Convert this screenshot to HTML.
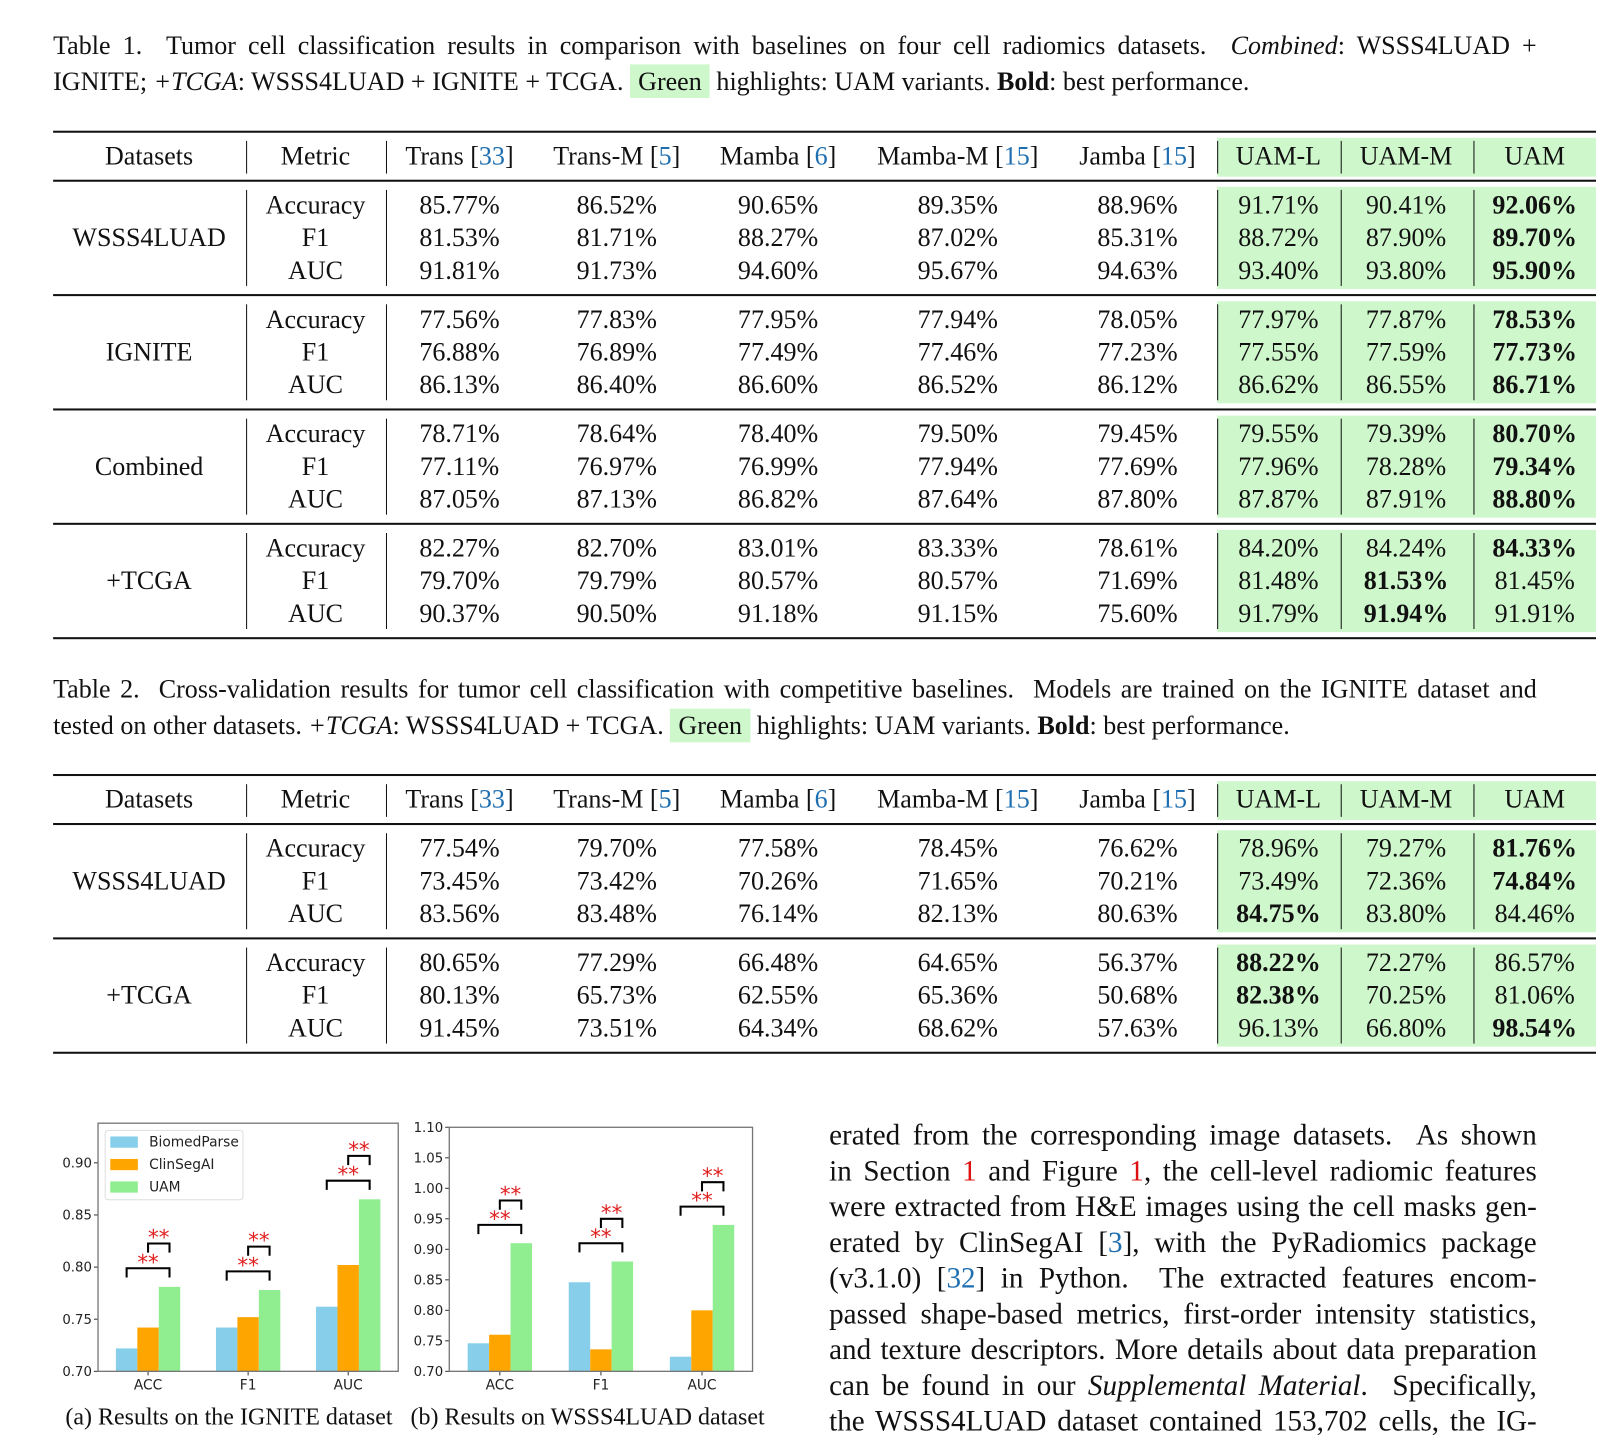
<!DOCTYPE html>
<html><head><meta charset="utf-8"><style>
body{margin:0;width:1601px;height:1431px;overflow:hidden;background:#fff;font-family:"Liberation Serif",serif;color:#111;position:relative}
#wrap{position:absolute;left:0;top:0;width:1568px;height:1402px;transform:scale(1.0211);transform-origin:0 0}
.abs{position:absolute}
.cap{position:absolute;left:52px;width:1453px;font-size:25.5px;line-height:36px;text-align:justify;text-align-last:justify;white-space:nowrap}
.cell{position:absolute;font-size:25.5px;line-height:30px;text-align:center;white-space:nowrap}
.rule{position:absolute;background:#111}
.ref{color:#1f6fb0}
.hl{background:#cff7cc;padding:2px 8px}
.tl{position:absolute;left:812px;width:693px;font-size:28.5px;line-height:35px;white-space:nowrap;text-align:justify;text-align-last:justify}
.red{color:#d11}
</style></head><body>
<div id="wrap">
<div class="cap" style="top:27px">Table 1.&nbsp; Tumor cell classification results in comparison with baselines on four cell radiomics datasets.&nbsp; <i>Combined</i>: WSSS4LUAD +</div>
<div class="cap" style="top:62px;text-align-last:left">IGNITE; <i>+TCGA</i>: WSSS4LUAD + IGNITE + TCGA. <span class="hl">Green</span> highlights: UAM variants. <b>Bold</b>: best performance.</div>
<div class="cap" style="top:657px">Table 2.&nbsp; Cross-validation results for tumor cell classification with competitive baselines.&nbsp; Models are trained on the IGNITE dataset and</div>
<div class="cap" style="top:693px;text-align-last:left">tested on other datasets. <i>+TCGA</i>: WSSS4LUAD + TCGA. <span class="hl">Green</span> highlights: UAM variants. <b>Bold</b>: best performance.</div>
<div id="t1"></div>
<div id="t2"></div>

<svg class="abs" style="left:0;top:1080px" width="760" height="300" id="charts"></svg>
<div class="abs" style="left:64px;top:1375px;font-size:23.5px">(a) Results on the IGNITE dataset</div>
<div class="abs" style="left:402px;top:1375px;font-size:23.5px">(b) Results on WSSS4LUAD dataset</div>

<div>
<div class="tl" style="top:1095px">erated from the corresponding image datasets.&nbsp; As shown</div>
<div class="tl" style="top:1130px">in Section <span class="red">1</span> and Figure <span class="red">1</span>, the cell-level radiomic features</div>
<div class="tl" style="top:1165px">were extracted from H&amp;E images using the cell masks gen-</div>
<div class="tl" style="top:1200px">erated by ClinSegAI [<span class="ref">3</span>], with the PyRadiomics package</div>
<div class="tl" style="top:1235px">(v3.1.0) [<span class="ref">32</span>] in Python.&nbsp; The extracted features encom-</div>
<div class="tl" style="top:1270px">passed shape-based metrics, first-order intensity statistics,</div>
<div class="tl" style="top:1305px">and texture descriptors. More details about data preparation</div>
<div class="tl" style="top:1340px">can be found in our <i>Supplemental Material</i>.&nbsp; Specifically,</div>
<div class="tl" style="top:1375px">the WSSS4LUAD dataset contained 153,702 cells, the IG-</div>
</div>
</div>

<script>
const headers=['Datasets','Metric','Trans [<span class="ref">33</span>]','Trans-M [<span class="ref">5</span>]','Mamba [<span class="ref">6</span>]','Mamba-M [<span class="ref">15</span>]','Jamba [<span class="ref">15</span>]','UAM-L','UAM-M','UAM'];
const colX=[146,309,450,604,762,938,1114,1252,1377,1503];
const metrics=['Accuracy','F1','AUC'];
const t1Sets=['WSSS4LUAD','IGNITE','Combined','+TCGA'];
const t1Vals=[
[[85.77,86.52,90.65,89.35,88.96,91.71,90.41,92.06],[81.53,81.71,88.27,87.02,85.31,88.72,87.90,89.70],[91.81,91.73,94.60,95.67,94.63,93.40,93.80,95.90]],
[[77.56,77.83,77.95,77.94,78.05,77.97,77.87,78.53],[76.88,76.89,77.49,77.46,77.23,77.55,77.59,77.73],[86.13,86.40,86.60,86.52,86.12,86.62,86.55,86.71]],
[[78.71,78.64,78.40,79.50,79.45,79.55,79.39,80.70],[77.11,76.97,76.99,77.94,77.69,77.96,78.28,79.34],[87.05,87.13,86.82,87.64,87.80,87.87,87.91,88.80]],
[[82.27,82.70,83.01,83.33,78.61,84.20,84.24,84.33],[79.70,79.79,80.57,80.57,71.69,81.48,81.53,81.45],[90.37,90.50,91.18,91.15,75.60,91.79,91.94,91.91]]];
const t2Sets=['WSSS4LUAD','+TCGA'];
const t2Vals=[
[[77.54,79.70,77.58,78.45,76.62,78.96,79.27,81.76],[73.45,73.42,70.26,71.65,70.21,73.49,72.36,74.84],[83.56,83.48,76.14,82.13,80.63,84.75,83.80,84.46]],
[[80.65,77.29,66.48,64.65,56.37,88.22,72.27,86.57],[80.13,65.73,62.55,65.36,50.68,82.38,70.25,81.06],[91.45,73.51,64.34,68.62,57.63,96.13,66.80,98.54]]];

function mk(parent,cls,style,html){const d=document.createElement('div');d.className=cls;d.style.cssText=style;if(html!==undefined)d.innerHTML=html;parent.appendChild(d);return d;}
function buildTable(id,top,sets,vals){
  const root=document.getElementById(id);
  const seps=[241,378,1192,1313,1443];
  const blocks=[[top+6,top+44]];
  let y=top+48;
  const rules=[[top,2.5],[y,1.5]];
  sets.forEach((s,g)=>{const y0=y;y+=112;blocks.push([y0+6,y-6]);rules.push([y,g==sets.length-1?2.5:1.5]);});
  blocks.forEach(b=>{
    const gr=mk(root,'abs',`left:1192px;width:371px;top:${b[0]}px;height:${b[1]-b[0]}px;background:#cff7cc`);
    
    
    seps.forEach(x=>{const s=mk(root,'rule',`left:${x}px;width:1.3px;top:${b[0]+3}px;height:${b[1]-b[0]-6}px`);
      
      });
  });
  rules.forEach(r=>{const e=mk(root,'rule',`left:52px;width:1511px;top:${r[0]-r[1]/2}px;height:${r[1]}px`);
    
    });
  headers.forEach((h,i)=>{const c=mk(root,'cell',`left:${colX[i]-100}px;width:200px;top:${top+9}px`,h);
    
    });
  sets.forEach((s,g)=>{
    const gy=top+48+g*112;
    const d=mk(root,'cell',`left:46px;width:200px;top:${gy+41}px`,s);
    
    
    metrics.forEach((m,r)=>{
      const ry=gy+9+r*32;
      const mc=mk(root,'cell',`left:209px;width:200px;top:${ry}px`,m);
      
      
      const row=vals[g][r];const mx=Math.max(...row);
      row.forEach((v,k)=>{
        const txt=v.toFixed(2)+'%';
        const c=mk(root,'cell',`left:${colX[k+2]-100}px;width:200px;top:${ry}px`,v===mx?'<b>'+txt+'</b>':txt);
        
        
      });
    });
  });
}
buildTable('t1',129,t1Sets,t1Vals);
buildTable('t2',759,t2Sets,t2Vals);

// charts
const cats=['ACC','F1','AUC'];
const seriesNames=['BiomedParse','ClinSegAI','UAM'];
const colors=['#87ceeb','#ffa500','#90ee90'];
const chartAVals=[[0.722,0.742,0.781],[0.742,0.752,0.778],[0.762,0.802,0.865]];
const chartBVals=[[0.746,0.760,0.910],[0.846,0.736,0.880],[0.724,0.800,0.940]];
const chartATicks=[0.70,0.75,0.80,0.85,0.90];
const chartBTicks=[0.70,0.75,0.80,0.85,0.90,0.95,1.00,1.05,1.10];
const NS='http://www.w3.org/2000/svg';
const svg=document.getElementById('charts');
function el(tag,attrs,parent){const e=document.createElementNS(NS,tag);for(const k in attrs)e.setAttribute(k,attrs[k]);(parent||svg).appendChild(e);return e;}
function chart(name,x0,x1,yTop,yBot,vmin,vmax,vals,ticks,legend){
  const OY=1080;
  const g=el('g',{});
  
  
  const ys=v=>yBot-OY-(v-vmin)/(vmax-vmin)*(yBot-yTop);
  const step=(x1-x0)/3;
  const xc=i=>x0+step*(i+0.5);
  const bw=21;
  vals.forEach((grp,i)=>{
    grp.forEach((v,k)=>{
      const r=el('rect',{x:xc(i)+(k-1)*bw-bw/2,y:ys(v),width:bw,height:ys(vmin)-ys(v),fill:colors[k]},g);
      
      
    });
    const mx=Math.max(...grp);
    const span=vmax-vmin;
    const l1=mx+span*0.075, l2=l1+span*0.1;
    const bx0=xc(i)-bw,bx1=xc(i)+bw,bxm=xc(i);
    const p1=el('path',{d:`M${bx0} ${ys(l1)+9}V${ys(l1)}H${bx1}V${ys(l1)+9}`,fill:'none',stroke:'#000','stroke-width':2},g);
    
    
    const p2=el('path',{d:`M${bxm} ${ys(l2)+9}V${ys(l2)}H${bx1}V${ys(l2)+9}`,fill:'none',stroke:'#000','stroke-width':2},g);
    
    
    [[(bx0+bx1)/2,ys(l1)],[(bxm+bx1)/2,ys(l2)]].forEach(p=>{
      const t=el('text',{x:p[0],y:p[1]+1,'text-anchor':'middle','font-size':21,fill:'#e02020','font-family':'DejaVu Sans'},g);
      t.textContent='**';
      
      
    });
    const tl=el('text',{x:xc(i),y:yBot-OY+18,'text-anchor':'middle','font-size':13.5,'font-family':'DejaVu Sans',fill:'#222'},g);
    tl.textContent=cats[i];
    
    
    el('line',{x1:xc(i),x2:xc(i),y1:yBot-OY,y2:yBot-OY+4,stroke:'#333'},g);
  });
  ticks.forEach(t=>{
    el('line',{x1:x0-4,x2:x0,y1:ys(t),y2:ys(t),stroke:'#333'},g);
    const tx=el('text',{x:x0-6,y:ys(t)+4.5,'text-anchor':'end','font-size':13,'font-family':'DejaVu Sans',fill:'#222'},g);
    tx.textContent=t.toFixed(2);
    
    
  });
  const fr=el('rect',{x:x0,y:yTop-OY,width:x1-x0,height:yBot-yTop,fill:'none',stroke:'#777','stroke-width':1.3},g);
  
  
  if(legend){
    const lg=el('g',{},g);
    
    
    el('rect',{x:x0+7,y:yTop-OY+7,width:135,height:68,fill:'#fff',stroke:'#ddd',rx:3},lg);
    seriesNames.forEach((s,k)=>{
      el('rect',{x:x0+12,y:yTop-OY+13+k*22,width:27,height:11,fill:colors[k]},lg);
      const t=el('text',{x:x0+50,y:yTop-OY+23+k*22,'font-size':13.5,'font-family':'DejaVu Sans',fill:'#222'},lg);
      t.textContent=s;
      
      
    });
  }
}
chart('chart-ignite',96,390,1100,1343,0.70,0.938,chartAVals,chartATicks,true);
chart('chart-wsss4luad',440,737,1104,1343,0.70,1.10,chartBVals,chartBTicks,false);
</script>
</body></html>
